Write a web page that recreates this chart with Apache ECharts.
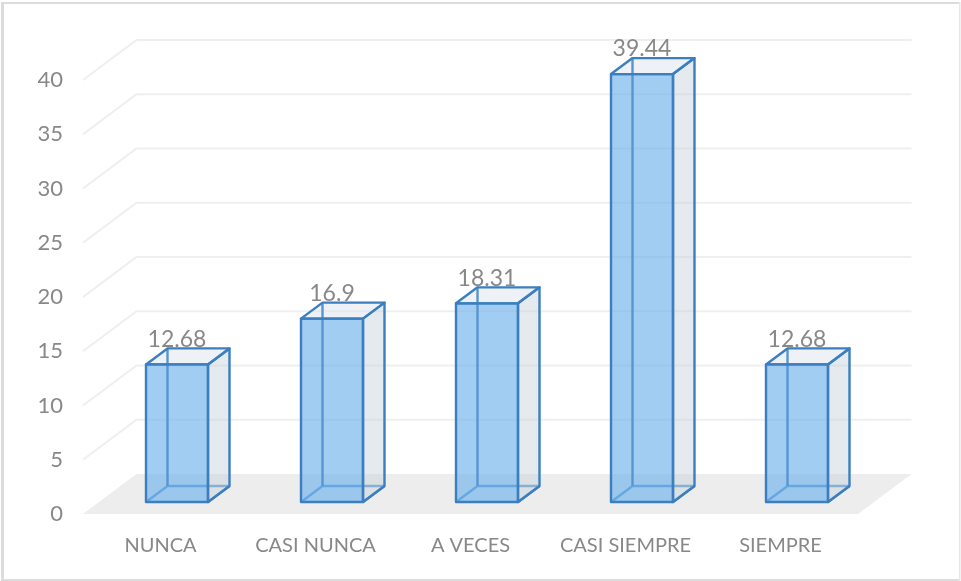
<!DOCTYPE html>
<html><head><meta charset="utf-8">
<style>html,body{margin:0;padding:0;background:#fff}#c{width:961px;height:581px}</style>
<script src="https://cdn.jsdelivr.net/npm/echarts@6/dist/echarts.min.js"></script>
</head><body><div id="c"></div>
<script>
const categories = ['NUNCA','CASI NUNCA','A VECES','CASI SIEMPRE','SIEMPRE'];
const values = [12.68,16.9,18.31,39.44,12.68];
const yTicks = [5,10,15,20,25,30,35,40];
const DEPTH_X = 53.5, DEPTH_Y = 40;
const BAR_W = 62, BAR_DX = 16.5, BAR_DY = 12, BOX_DX = 21.5, BOX_DY = 16;
const chart = echarts.init(document.getElementById('c'));
const FONT = 'Lato';
const TEXT = '#888888';
const frame = (x,y,w,h,c)=>({type:'rect',silent:true,z:-1,shape:{x:x,y:y,width:w,height:h},style:{fill:c}});
chart.setOption({
  animation:false,
  backgroundColor:'#fff',
  graphic:[frame(1,2,3,579,'#dcdcdc'),frame(1,2,959,2,'#dcdcdc'),frame(1,579,959,2,'#dcdcdc'),frame(959,2,1.5,579,'#e6e6e6')],
  grid:{left:83,right:103,top:80,bottom:67},
  xAxis:{type:'category',data:categories,axisLine:{show:false},axisTick:{show:false},splitLine:{show:false},
    axisLabel:{color:TEXT,fontFamily:FONT,fontSize:20,margin:22,interval:0}},
  yAxis:{type:'value',min:0,max:40,interval:5,axisLine:{show:false},axisTick:{show:false},splitLine:{show:false},
    axisLabel:{color:TEXT,fontFamily:FONT,fontSize:22,margin:20}},
  series:[
    {type:'custom',silent:true,clip:false,z:1,coordinateSystem:'cartesian2d',encode:{x:-1,y:0},data:yTicks,
     renderItem(params,api){
       const cs=params.coordSys, y=api.coord([0,api.value(0)])[1];
       return {type:'polyline',shape:{points:[[cs.x,y],[cs.x+DEPTH_X,y-DEPTH_Y],[cs.x+cs.width+DEPTH_X,y-DEPTH_Y]]},
         style:{fill:'none',stroke:'#efefef',lineWidth:2}};
     }},
    {type:'custom',silent:true,clip:false,z:1,coordinateSystem:'cartesian2d',encode:{x:-1,y:0},data:[0],
     renderItem(params,api){
       const cs=params.coordSys, y=api.coord([0,api.value(0)])[1];
       return {type:'polygon',shape:{points:[[cs.x,y],[cs.x+DEPTH_X,y-DEPTH_Y],[cs.x+cs.width+DEPTH_X,y-DEPTH_Y],[cs.x+cs.width,y]]},
         style:{fill:'#ededed'}};
     }},
    {type:'custom',silent:true,clip:false,z:2,coordinateSystem:'cartesian2d',encode:{x:0,y:1},
     data:values.map((v,i)=>[i,v]),
     renderItem(params,api){
       const c0=api.coord([api.value(0),0]), c1=api.coord([api.value(0),api.value(1)]);
       const xl=c0[0]+BAR_DX-BAR_W/2, xr=xl+BAR_W, yb=c0[1]-BAR_DY, yt=c1[1]-BAR_DY;
       const dx=BOX_DX, dy=BOX_DY;
       const edge='#3b7fc0', back='#5596d2', LW=2.4;
       const poly=(pts,fill,stroke,lw)=>({type:'polygon',shape:{points:pts},style:{fill:fill,stroke:stroke||'none',lineWidth:lw||0,lineJoin:'round'}});
       const line=(a,b,s)=>({type:'line',shape:{x1:a[0],y1:a[1],x2:b[0],y2:b[1]},style:{stroke:s,lineWidth:LW}});
       return {type:'group',children:[
         line([xl+dx,yb-dy],[xr+dx,yb-dy],back),
         line([xl+dx,yb-dy],[xl,yb],back),
         line([xr+dx,yb-dy],[xr,yb],edge),
         poly([[xr,yb],[xr+dx,yb-dy],[xr+dx,yt-dy],[xr,yt]],'rgba(198,209,218,0.45)'),
         poly([[xl,yt],[xl+dx,yt-dy],[xr+dx,yt-dy],[xr,yt]],'rgba(222,230,238,0.5)'),
         poly([[xl,yb],[xr,yb],[xr,yt],[xl,yt]],'rgba(110,177,236,0.64)'),
         line([xl+dx,yb-dy],[xl+dx,yt-dy],back),
         poly([[xr,yb],[xr+dx,yb-dy],[xr+dx,yt-dy],[xr,yt]],'none',edge,LW),
         poly([[xl,yt],[xl+dx,yt-dy],[xr+dx,yt-dy],[xr,yt]],'none',edge,LW),
         poly([[xl,yb],[xr,yb],[xr,yt],[xl,yt]],'none',edge,LW),
         {type:'text',style:{text:String(api.value(1)),x:(xl+xr)/2,y:yt-dy-9,align:'center',verticalAlign:'middle',
           fill:TEXT,fontFamily:FONT,fontSize:23}}
       ]};
     }}
  ]
});
</script></body></html>
